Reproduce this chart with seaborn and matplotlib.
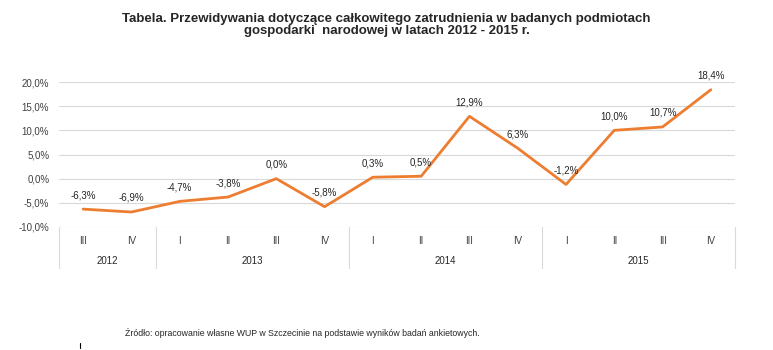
import matplotlib
matplotlib.use("Agg")
import matplotlib.pyplot as plt
import seaborn as sns
import pandas as pd
import numpy as np

quarters = ["III", "IV", "I", "II", "III", "IV", "I", "II", "III", "IV", "I", "II", "III", "IV"]
years = ["2012", "2013", "2014", "2015"]
year_counts = [2, 4, 4, 4]
values = [-6.3, -6.9, -4.7, -3.8, 0.0, -5.8, 0.3, 0.5, 12.9, 6.3, -1.2, 10.0, 10.7, 18.4]
yticks = [-10, -5, 0, 5, 10, 15, 20]

sns.set_theme(style="white")
plt.rcParams['font.family'] = ['Liberation Sans', 'DejaVu Sans']

fig = plt.figure(figsize=(7.73, 3.5), dpi=100)
ax = fig.add_axes([59/773, 1-227/350, (735-59)/773, (227-82)/350])

df = pd.DataFrame({"idx": np.arange(len(values)), "val": values})
sns.lineplot(data=df, x="idx", y="val", ax=ax, color="#ED7D31", linewidth=2)

ax.set_xlim(-0.5, len(values) - 0.5)
ax.set_ylim(-10, 20)
ax.set_yticks(yticks)
ax.set_yticklabels([f"{v:.1f}%".replace(".", ",") for v in yticks], fontsize=7, color="#404040")
ax.tick_params(axis="y", length=0, pad=7)
ax.set_xticks([])
ax.set_xlabel("")
ax.set_ylabel("")
for yv in yticks:
    ax.axhline(yv, color="#d9d9d9", lw=0.8, zorder=0)
for s in ax.spines.values():
    s.set_visible(False)

for i, v in enumerate(values):
    ax.annotate(f"{v:.1f}%".replace(".", ","), (i, v), xytext=(0, 6.5), textcoords="offset points",
                ha="center", va="bottom", fontsize=7, color="#262626")

trans = ax.get_xaxis_transform()
for i, q in enumerate(quarters):
    ax.text(i, -14/145, q, transform=trans, ha="center", va="center", fontsize=7, color="#404040")
start = 0
bounds = [-0.5]
for y, c in zip(years, year_counts):
    ax.text(start + (c - 1) / 2, -34/145, y, transform=trans, ha="center", va="center", fontsize=7, color="#262626")
    start += c
    bounds.append(start - 0.5)
for b in bounds:
    ax.plot([b, b], [0, -41/145], transform=trans, color="#d9d9d9", lw=0.8, clip_on=False)

fig.text(0.5, 1-25/350, "Tabela. Przewidywania dotyczące całkowitego zatrudnienia w badanych podmiotach\ngospodarki  narodowej w latach 2012 - 2015 r.",
         ha="center", va="center", fontsize=9.5, fontweight="bold", linespacing=1.05)
fig.text(302/773, 1-333/350, "Źródło: opracowanie własne WUP w Szczecinie na podstawie wyników badań ankietowych.",
         ha="center", va="center", fontsize=6.3)
fig.add_artist(plt.Line2D([80/773, 80/773], [1-348/350, 1-343/350], color="black", lw=0.8))

fig.savefig("out.png", dpi=100)
